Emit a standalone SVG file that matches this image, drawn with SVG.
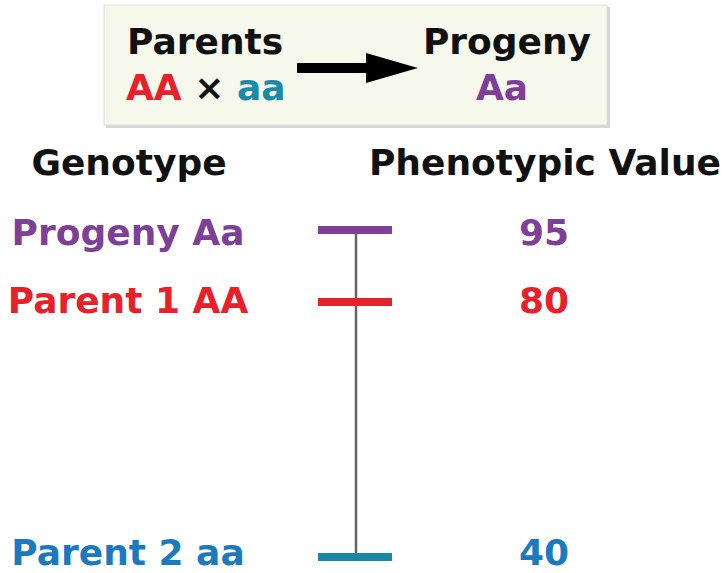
<svg xmlns="http://www.w3.org/2000/svg" width="726" height="573" viewBox="0 0 726 573">
  <style>
    .t { font-family: "DejaVu Sans", Verdana, sans-serif; font-weight: bold; font-size: 36px; }
    .blk { fill: #111111; }
    .pur { fill: #7d3f98; }
    .red { fill: #e8202a; }
    .blu { fill: #1b7abf; }
    .tea { fill: #1b8aaa; }
    .bar { stroke-width: 8; }
  </style>
  <rect width="726" height="573" fill="#ffffff"/>

  <!-- cross summary box -->
  <g id="cross">
    <rect x="106" y="7" width="504" height="121" fill="#d6d6d6"/>
    <rect x="104" y="5" width="503" height="120" fill="#f6f8ec" stroke="#e2e2d8" stroke-width="1"/>
    <text class="t blk" x="127" y="54">Parents</text>
    <text class="t" x="126" y="100"><tspan class="red">AA</tspan><tspan class="blk"> × </tspan><tspan class="tea">aa</tspan></text>
    <text class="t blk" x="507" y="54" text-anchor="middle">Progeny</text>
    <text class="t pur" x="502" y="100" text-anchor="middle">Aa</text>
    <polygon points="297,63 366,63 366,53 418,68 366,83 366,73 297,73" fill="#000000"/>
  </g>

  <!-- column headings -->
  <g id="headings">
    <text class="t blk" x="129" y="175" text-anchor="middle">Genotype</text>
    <text class="t blk" x="545" y="175" text-anchor="middle">Phenotypic Value</text>
  </g>

  <!-- value scale -->
  <g id="connectors">
    <line x1="356" y1="230" x2="356" y2="557" stroke="#666666" stroke-width="2.5"/>
  </g>

  <g id="progeny">
    <text class="t pur" x="128" y="245" text-anchor="middle">Progeny Aa</text>
    <line class="bar" x1="318" y1="230" x2="392" y2="230" stroke="#7d3f98"/>
    <text class="t pur" x="544" y="245" text-anchor="middle">95</text>
  </g>

  <g id="parent1">
    <text class="t red" x="128" y="313" text-anchor="middle">Parent 1 AA</text>
    <line class="bar" x1="318" y1="302" x2="392" y2="302" stroke="#e8202a"/>
    <text class="t red" x="544" y="313" text-anchor="middle">80</text>
  </g>

  <g id="parent2">
    <text class="t blu" x="128" y="565" text-anchor="middle">Parent 2 aa</text>
    <line class="bar" x1="318" y1="557" x2="392" y2="557" stroke="#1a86a8"/>
    <text class="t blu" x="544" y="565" text-anchor="middle">40</text>
  </g>
</svg>
